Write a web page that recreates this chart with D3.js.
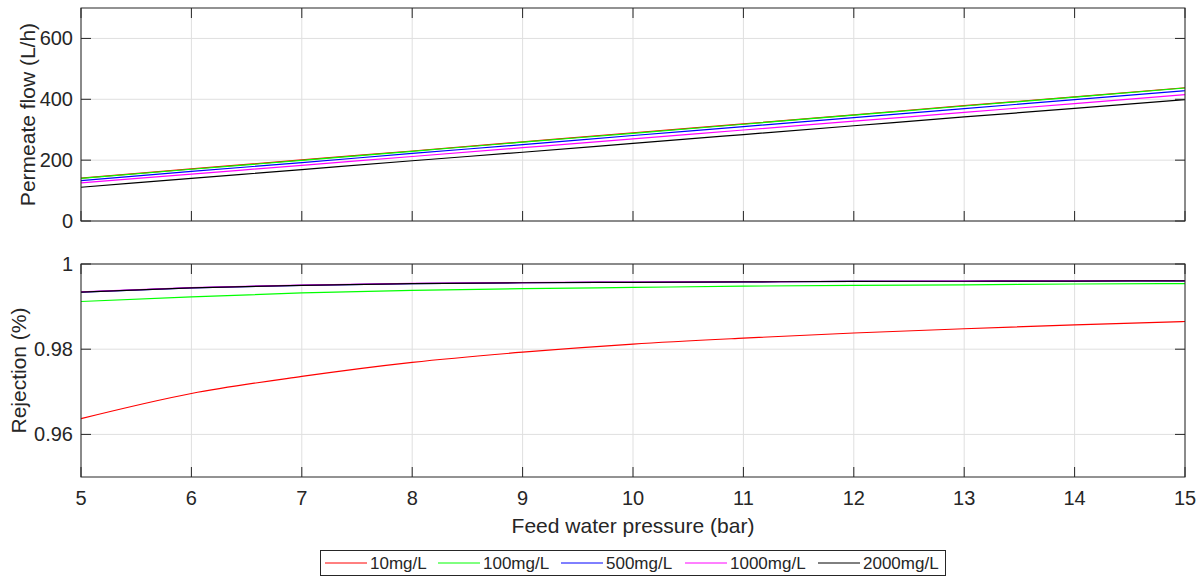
<!DOCTYPE html>
<html>
<head>
<meta charset="utf-8">
<script src="https://cdn.jsdelivr.net/npm/d3@7"></script>
<style>
  body { margin: 0; background: #fff; }
  svg text { font-family: "Liberation Sans", Arial, sans-serif; fill: #262626; }
</style>
</head>
<body>
<svg id="chart" width="1203" height="577"></svg>
<script>
// feed pressure (bar)
const pressure = [5, 6, 7, 8, 9, 10, 11, 12, 13, 14, 15];
const seriesNames = ["10mg/L", "100mg/L", "500mg/L", "1000mg/L", "2000mg/L"];
const seriesColors = ["#ff0000", "#00ff00", "#0000ff", "#ff00ff", "#000000"];

// permeate flow (L/h) at each pressure
const flow10 = [141, 171, 201, 230, 260, 290, 319, 349, 379, 408, 438];
const flow100 = [140, 170, 199, 229, 259, 288, 318, 348, 378, 407, 437];
const flow500 = [133, 163, 192, 222, 251, 281, 310, 340, 369, 399, 428];
const flow1000 = [125, 154, 183, 212, 241, 270, 299, 328, 357, 386, 415];
const flow2000 = [111, 140, 169, 198, 226, 255, 284, 313, 342, 370, 399];

// rejection at each pressure
const rej10 = [0.9637, 0.9696, 0.9736, 0.9769, 0.9793, 0.9812, 0.9826, 0.9838, 0.9848, 0.9857, 0.9865];
const rej100 = [0.9912, 0.9923, 0.9932, 0.9938, 0.9942, 0.9945, 0.9948, 0.9950, 0.9951, 0.9953, 0.9954];
const rej500 = [0.9934, 0.9944, 0.9950, 0.9954, 0.9956, 0.9957, 0.9958, 0.9959, 0.99595, 0.9960, 0.99605];
const rej1000 = [0.99345, 0.99445, 0.99505, 0.99545, 0.99565, 0.99575, 0.99585, 0.99595, 0.996, 0.99605, 0.9961];
const rej2000 = [0.9934, 0.9944, 0.9950, 0.9954, 0.9956, 0.9957, 0.9958, 0.9959, 0.99595, 0.9960, 0.99605];

const flowTicks = [0, 200, 400, 600];
const rejTicks = [0.96, 0.98, 1];
const xTicks = [5, 6, 7, 8, 9, 10, 11, 12, 13, 14, 15];

const svg = d3.select("#chart");
const left = 81, right = 1185;
const axisColor = "#262626";

const x = d3.scaleLinear().domain([5, 15]).range([left, right]);

function panel(top, bottom, yDomain, yTicks, data, yLabel, labelX, showX) {
  const y = d3.scaleLinear().domain(yDomain).range([bottom, top]);
  const g = svg.append("g");

  // grid
  g.selectAll(".gx").data(xTicks).enter().append("line")
    .attr("x1", d => x(d)).attr("x2", d => x(d))
    .attr("y1", top).attr("y2", bottom)
    .attr("stroke", "#dfdfdf").attr("stroke-width", 1);
  g.selectAll(".gy").data(yTicks).enter().append("line")
    .attr("x1", left).attr("x2", right)
    .attr("y1", d => y(d)).attr("y2", d => y(d))
    .attr("stroke", "#dfdfdf").attr("stroke-width", 1);

  // lines
  const line = d3.line()
    .x((d, i) => x(pressure[i]))
    .y(d => y(d))
    .curve(d3.curveMonotoneX);
  data.forEach((s, k) => {
    g.append("path").datum(s)
      .attr("d", line)
      .attr("fill", "none")
      .attr("stroke", seriesColors[k])
      .attr("stroke-width", 1.2);
  });

  // box + inward ticks
  g.append("rect").attr("x", left).attr("y", top)
    .attr("width", right - left).attr("height", bottom - top)
    .attr("fill", "none").attr("stroke", axisColor).attr("stroke-width", 1);

  const tl = 10;
  xTicks.forEach(t => {
    g.append("line").attr("x1", x(t)).attr("x2", x(t)).attr("y1", bottom).attr("y2", bottom - tl)
      .attr("stroke", axisColor);
    g.append("line").attr("x1", x(t)).attr("x2", x(t)).attr("y1", top).attr("y2", top + tl)
      .attr("stroke", axisColor);
  });
  yTicks.forEach(t => {
    g.append("line").attr("x1", left).attr("x2", left + tl).attr("y1", y(t)).attr("y2", y(t))
      .attr("stroke", axisColor);
    g.append("line").attr("x1", right).attr("x2", right - tl).attr("y1", y(t)).attr("y2", y(t))
      .attr("stroke", axisColor);
  });

  g.selectAll(".yl").data(yTicks).enter().append("text")
    .attr("x", left - 8).attr("y", d => y(d)).attr("dy", "0.35em")
    .attr("text-anchor", "end").style("font-size", "20px")
    .text(d => d);

  if (showX) {
    g.selectAll(".xl").data(xTicks).enter().append("text")
      .attr("x", d => x(d)).attr("y", bottom + 28)
      .attr("text-anchor", "middle").style("font-size", "20px")
      .text(d => d);
  }

  g.append("text")
    .attr("transform", "translate(" + labelX + "," + ((top + bottom) / 2) + ") rotate(-90)")
    .attr("text-anchor", "middle").style("font-size", "21px")
    .text(yLabel);
}

panel(8, 221, [0, 700], flowTicks,
  [flow10, flow100, flow500, flow1000, flow2000], "Permeate flow (L/h)", 35, false);
panel(264, 477, [0.95, 1], rejTicks,
  [rej10, rej100, rej500, rej1000, rej2000], "Rejection (%)", 26, true);

svg.append("text")
  .attr("x", (left + right) / 2).attr("y", 533)
  .attr("text-anchor", "middle").style("font-size", "21px")
  .text("Feed water pressure (bar)");

// legend
const lg = svg.append("g");
lg.append("rect").attr("x", 320.5).attr("y", 550.5).attr("width", 625).attr("height", 25)
  .attr("fill", "#fff").attr("stroke", axisColor).attr("stroke-width", 1);
const legX = [325, 438, 561, 685, 818];
seriesNames.forEach((n, k) => {
  lg.append("line").attr("x1", legX[k]).attr("x2", legX[k] + 42)
    .attr("y1", 563).attr("y2", 563)
    .attr("stroke", seriesColors[k]).attr("stroke-width", 1);
  lg.append("text").attr("x", legX[k] + 45).attr("y", 563).attr("dy", "0.35em")
    .style("font-size", "17px").text(n);
});
</script>
</body>
</html>
